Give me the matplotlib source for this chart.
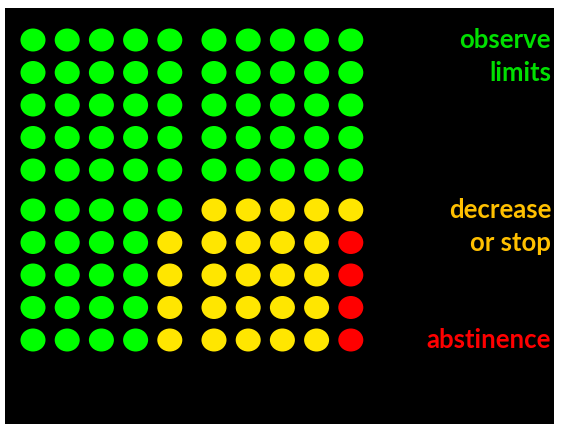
import matplotlib
matplotlib.use("Agg")
import matplotlib.pyplot as plt
from matplotlib.patches import Ellipse, Rectangle

# Grid of categories (row by row, top to bottom): G=observe limits, Y=decrease or stop, R=abstinence
grid_rows = [
    "GGGGGGGGGG",
    "GGGGGGGGGG",
    "GGGGGGGGGG",
    "GGGGGGGGGG",
    "GGGGGGGGGG",
    "GGGGGYYYYY",
    "GGGGYYYYYR",
    "GGGGYYYYYR",
    "GGGGYYYYYR",
    "GGGGYYYYYR",
]
labels = ["observe\nlimits", "decrease\nor stop", "abstinence"]
codes = ["G", "Y", "R"]

dot_colors = {"G": "#00FF00", "Y": "#FFE600", "R": "#FF0000"}
text_colors = ["#00E000", "#FFC000", "#FF0000"]
label_y = [56.5, 226.5, 340]

W, H = 564, 424
fig = plt.figure(figsize=(W / 100, H / 100), dpi=100)
fig.patch.set_facecolor("white")
ax = fig.add_axes([0, 0, 1, 1])
ax.set_xlim(0, W)
ax.set_ylim(H, 0)
ax.axis("off")

ax.add_patch(Rectangle((5, 8), 549, 420, facecolor="black", edgecolor="none"))

for r, row in enumerate(grid_rows):
    y = 40 + 32.5 * r + (7.5 if r >= 5 else 0)
    for c, code in enumerate(row):
        x = 33 + 34.2 * c + (10 if c >= 5 else 0)
        ax.add_patch(Ellipse((x, y), 25, 23, facecolor=dot_colors[code], edgecolor="none"))

for lab, col, y in zip(labels, text_colors, label_y):
    ax.text(551, y, lab, color=col, ha="right", va="center", fontsize=18.5,
            fontweight="bold", family=["Lato", "DejaVu Sans"], linespacing=1.42)

fig.savefig("out.png", dpi=100, facecolor=fig.get_facecolor())
